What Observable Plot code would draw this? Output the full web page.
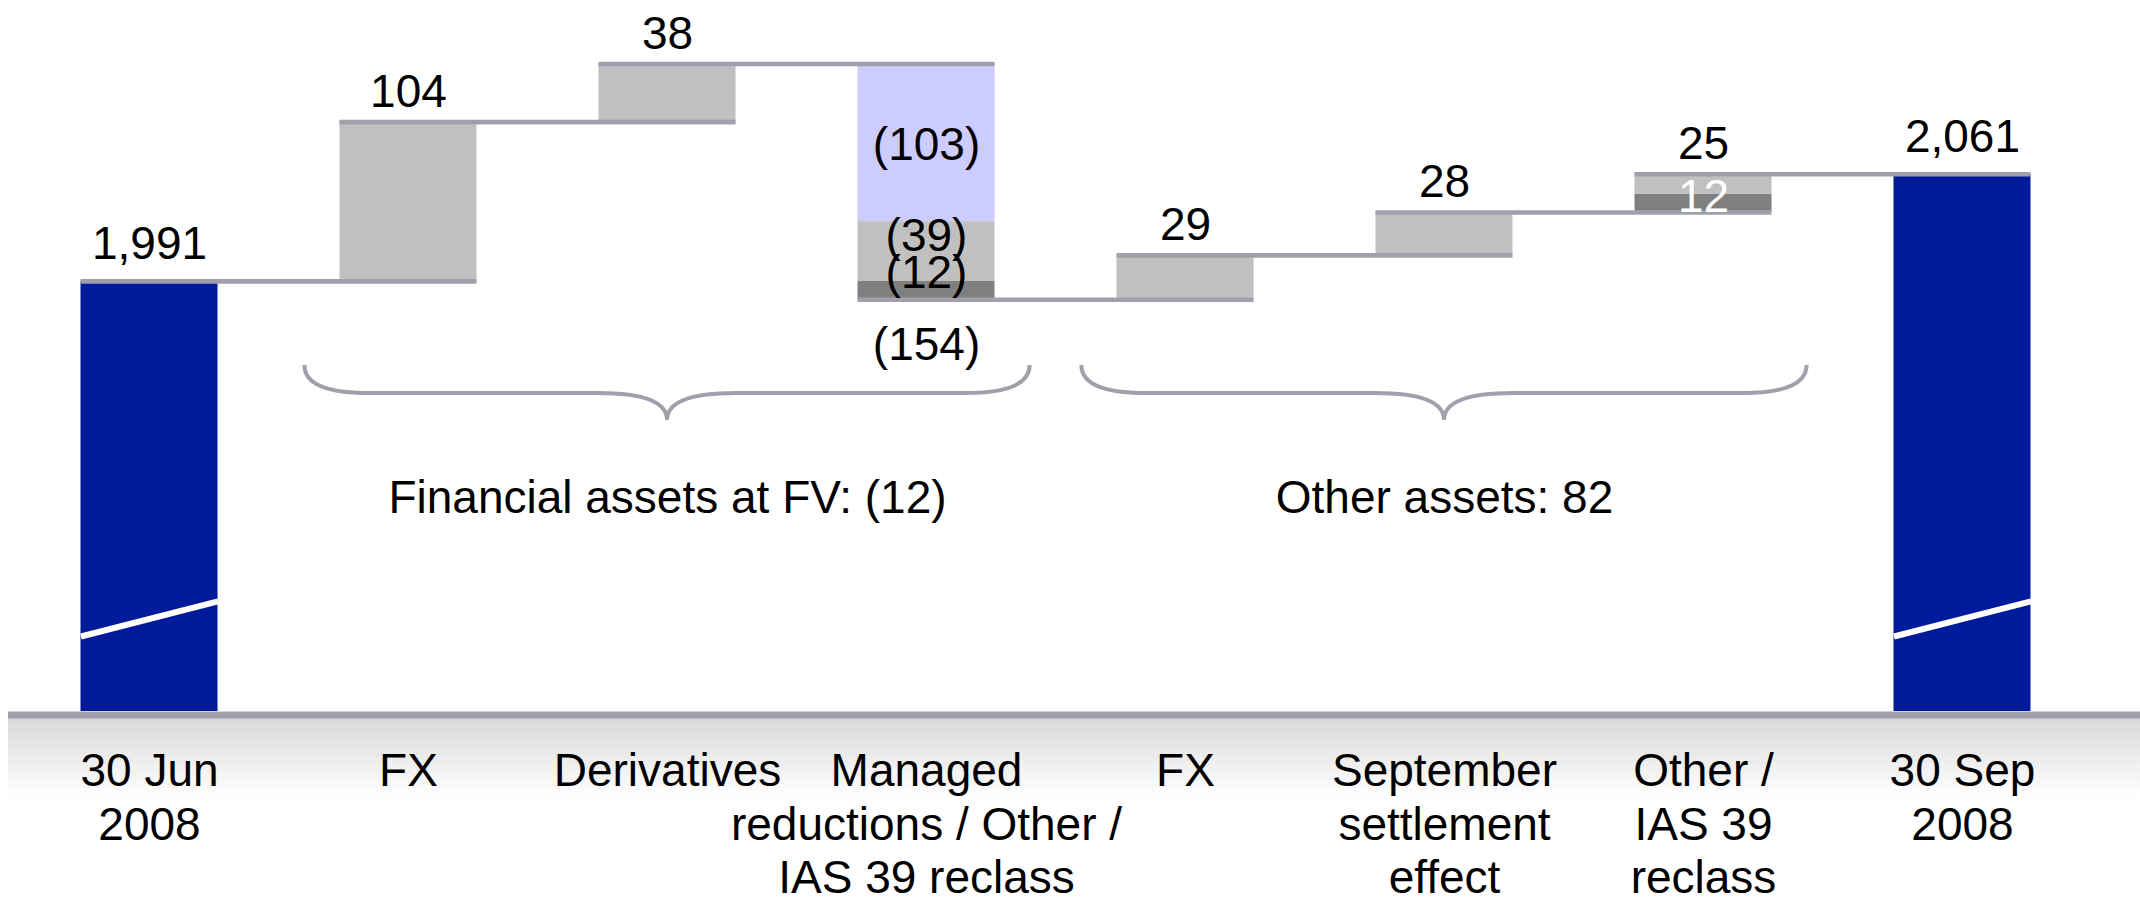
<!DOCTYPE html>
<html>
<head>
<meta charset="utf-8">
<script src="https://cdn.jsdelivr.net/npm/d3@7"></script>
<script src="https://cdn.jsdelivr.net/npm/@observablehq/plot@0.6"></script>
<style>
  html, body { margin: 0; padding: 0; background: #fff; }
  svg { display: block; }
</style>
</head>
<body>
<div id="chart"></div>
<script>
// ---------------- data ----------------
const categories = [
  "30 Jun\n2008",
  "FX",
  "Derivatives",
  "Managed\nreductions / Other /\nIAS 39 reclass",
  "FX",
  "September\nsettlement\neffect",
  "Other /\nIAS 39\nreclass",
  "30 Sep\n2008"
];
const kinds = ["total", "delta", "delta", "delta", "delta", "delta", "delta", "total"];
const values = [1991, 104, 38, -154, 29, 28, 25, 2061];
const valueLabels = ["1,991", "104", "38", "(154)", "29", "28", "25", "2,061"];

// components of split bars (in stacking order from the bar's starting level)
const segBar    = [3, 3, 3, 6, 6];
const segValues = [-103, -39, -12, 12, 13];
const segTone   = ["light", "mid", "dark", "dark", "mid"];
const segLabels = ["(103)", "(39)", "(12)", "12", ""];

// brace groups
const groupLabels = ["Financial assets at FV: (12)", "Other assets: 82"];
const groupFrom = [1, 4];
const groupTo = [3, 6];

// broken-axis marker levels on the total bars
const axisBreak = [1759, 1782];

// ---------------- styles ----------------
const yMin = 1710, yMax = 2174.5;
const halfBar = 0.2645;
const colors = { total: "#001A9C", light: "#CCCCFF", mid: "#C0C0C0", dark: "#808080" };
const lineColor = "#A0A0AA";
const font = "Liberation Sans, Arial, Helvetica, sans-serif";
const fs = 46;
const segLabelDy = [2, -15, -17, -6, 0];
const segLabelFill = ["#000", "#000", "#000", "#fff", "#000"];

// ---------------- waterfall computation ----------------
const segs = [], connectors = [], vlabels = [], breaks = [];
let level = 0;
values.forEach((v, i) => {
  let start, end;
  if (kinds[i] === "total") { start = yMin; end = v; }
  else { start = level; end = level + v; }
  const comps = segBar.map((b, k) => b === i ? k : -1).filter(k => k >= 0);
  if (comps.length) {
    let s = start;
    for (const k of comps) {
      const e = s + segValues[k];
      segs.push({i, y1: s, y2: e, tone: segTone[k], label: segLabels[k],
                 dy: segLabelDy[k], fill: segLabelFill[k], mid: (s + e) / 2});
      s = e;
    }
  } else {
    segs.push({i, y1: start, y2: end, tone: kinds[i] === "total" ? "total" : "mid", label: ""});
  }
  vlabels.push({i, y: end, text: valueLabels[i], kind: kinds[i], neg: v < 0 && kinds[i] !== "total"});
  if (i < values.length - 1) connectors.push({x1: i - halfBar, x2: i + 1 + halfBar, y: end});
  if (kinds[i] === "total") breaks.push({x1: i - halfBar, x2: i + halfBar, y1: axisBreak[0], y2: axisBreak[1]});
  level = end;
});
const aboveLabels = vlabels.filter(d => !d.neg);
const belowLabels = vlabels.filter(d => d.neg);
const segText = segs.filter(d => d.label);
const groups = groupLabels.map((label, k) => ({label, from: groupFrom[k], to: groupTo[k], mid: (groupFrom[k] + groupTo[k]) / 2}));

// ---------------- custom render marks ----------------
const axisBand = (index, scales, values, dims) => {
  const g = d3.create("svg:g");
  const grad = g.append("defs").append("linearGradient")
    .attr("id", "axisGrad").attr("x1", 0).attr("y1", 0).attr("x2", 0).attr("y2", 1);
  grad.append("stop").attr("offset", "0%").attr("stop-color", "#D8D8DA");
  grad.append("stop").attr("offset", "100%").attr("stop-color", "#FFFFFF");
  const top = dims.height - dims.marginBottom;
  g.append("rect")
    .attr("x", dims.marginLeft).attr("y", top + 6)
    .attr("width", dims.width - dims.marginLeft - dims.marginRight).attr("height", 80)
    .attr("fill", "url(#axisGrad)");
  return g.node();
};

const braceMark = (index, scales) => {
  const g = d3.create("svg:g").attr("fill", "none").attr("stroke", lineColor).attr("stroke-width", 4);
  const yt = 365, yh = 393, yp = 420, r1 = 64, r2 = 69;
  for (const gr of groups) {
    const xa = scales.x(gr.from - 0.4), xb = scales.x(gr.to + 0.4), xm = (xa + xb) / 2;
    g.append("path").attr("d",
      `M${xa},${yt} Q${xa},${yh} ${xa + r1},${yh} L${xm - r2},${yh} Q${xm},${yh} ${xm},${yp}` +
      ` M${xb},${yt} Q${xb},${yh} ${xb - r1},${yh} L${xm + r2},${yh} Q${xm},${yh} ${xm},${yp}`);
  }
  return g.node();
};

// one text mark per segment label so each gets its own offset
const segTextMarks = segText.map(d => Plot.text([d], {
  x: "i", y: "mid", text: "label", dy: d.dy, fill: d.fill,
  fontSize: fs, lineAnchor: "middle"
}));

// ---------------- plot ----------------
const chart = Plot.plot({
  width: 2140,
  height: 899,
  marginLeft: 8,
  marginRight: 0,
  marginTop: 0,
  marginBottom: 188,
  style: { fontFamily: font, background: "#fff" },
  x: { type: "linear", domain: [-0.5444, 7.6873], axis: null },
  y: { domain: [yMin, yMax], axis: null },
  marks: [
    axisBand,
    Plot.rect(segs, {
      x1: d => d.i - halfBar, x2: d => d.i + halfBar, y1: "y1", y2: "y2",
      fill: d => colors[d.tone]
    }),
    Plot.link(breaks, { x1: "x1", x2: "x2", y1: "y1", y2: "y2", stroke: "#fff", strokeWidth: 6 }),
    Plot.ruleY([yMin], { stroke: lineColor, strokeWidth: 7, dy: 3.5 }),
    Plot.ruleY(connectors, { y: "y", x1: "x1", x2: "x2", stroke: lineColor, strokeWidth: 4.7 }),
    ...segTextMarks,
    Plot.text(aboveLabels, {
      x: "i", y: "y", text: "text", fontSize: fs, fill: "#000",
      lineAnchor: "bottom", dy: -15, filter: d => d.kind !== "total"
    }),
    Plot.text(aboveLabels, {
      x: "i", y: "y", text: "text", fontSize: fs, fill: "#000",
      lineAnchor: "bottom", dy: -22, filter: d => d.kind === "total"
    }),
    Plot.text(belowLabels, {
      x: "i", y: "y", text: "text", fontSize: fs, fill: "#000",
      lineAnchor: "top", dy: 28
    }),
    braceMark,
    Plot.text(groups, {
      x: "mid", text: "label", frameAnchor: "top", dy: 498,
      lineAnchor: "middle", fontSize: fs, fill: "#000"
    }),
    Plot.text(categories, {
      x: (d, i) => i, text: d => d, frameAnchor: "bottom", dy: 36,
      lineAnchor: "top", lineHeight: 1.17, fontSize: fs, fill: "#000"
    })
  ]
});

document.getElementById("chart").appendChild(chart);
</script>
</body>
</html>
